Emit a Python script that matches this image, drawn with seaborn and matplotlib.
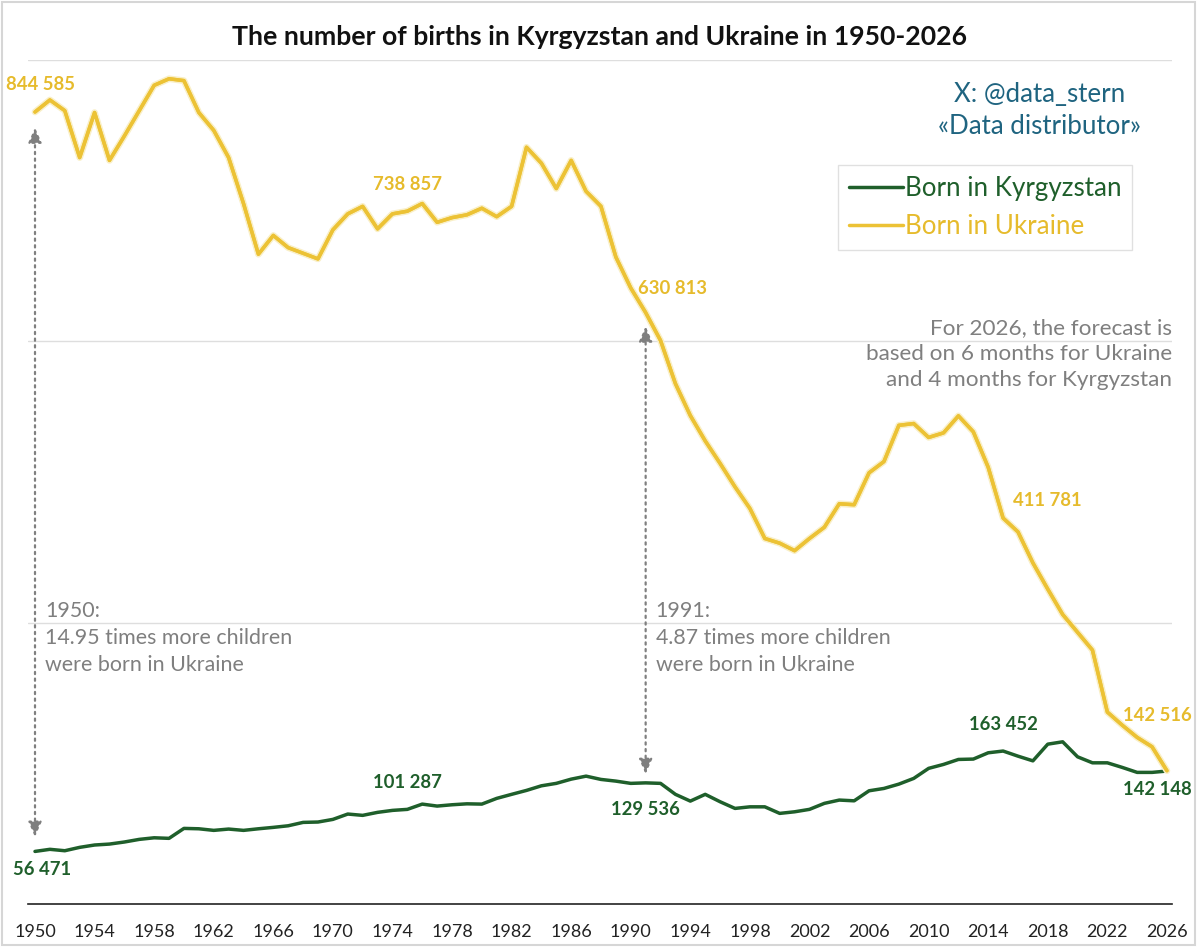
import matplotlib
matplotlib.use("Agg")
import matplotlib.pyplot as plt
import matplotlib.patheffects as pe
from matplotlib.patches import Rectangle
import numpy as np
import pandas as pd
import seaborn as sns

years = list(range(1950, 2027))

ukraine = [
    844585, 857400, 846000, 796000, 844000, 793000, 819000, 846000, 873000, 880000,
    878000, 844000, 825000, 796000, 747000, 693000, 713000, 700000, 694000, 688000,
    719000, 736000, 744000, 720000, 736000, 738857, 747000, 727000, 732000, 735000,
    742000, 733000, 744000, 807000, 790000, 763000, 793000, 760000, 744000, 690000,
    657000, 630813, 601000, 555000, 521000, 494000, 470000, 445000, 422000, 390000,
    385000, 377000, 390000, 402000, 427000, 426000, 460000, 472000, 510600, 512500,
    497700, 502600, 520700, 503700, 465900, 411781, 397000, 364000, 336000, 309000,
    290000, 271000, 205000, 191000, 178000, 168000, 142516,
]

kyrgyzstan = [
    56471, 58700, 57200, 60800, 63300, 64300, 66500, 69300, 71000, 70400,
    81000, 80600, 78900, 80300, 78900, 80600, 82100, 83800, 87400, 87800,
    90600, 96300, 94900, 98100, 100200, 101287, 106900, 104800, 106200, 107200,
    106900, 113000, 117300, 121500, 126400, 129000, 133500, 136700, 133200, 131400,
    129000, 129536, 129000, 117300, 110100, 117300, 109400, 102300, 104000, 104000,
    97000, 98700, 101300, 107700, 111200, 110400, 121100, 123600, 128200, 134300,
    145000, 149200, 154500, 154900, 161600, 163452, 158000, 153000, 170800, 173300,
    157300, 150900, 150900, 146000, 140700, 140700, 142148,
]

series_names = ["Born in Kyrgyzstan", "Born in Ukraine"]
tick_years = list(range(1950, 2027, 4))
label_years = [1950, 1975, 1991, 2015, 2026]

title = "The number of births in Kyrgyzstan and Ukraine in 1950-2026"
credit = "X: @data_stern\n«Data distributor»"
forecast_note = ("For 2026, the forecast is\nbased on 6 months for Ukraine\n"
                 "and 4 months for Kyrgyzstan")
ratio_notes = {
    1950: "1950:\n14.95 times more children\nwere born in Ukraine",
    1991: "1991:\n4.87 times more children\nwere born in Ukraine",
}
arrow_spans = {1950: (72000, 828000), 1991: (139000, 616000)}

GREEN = "#1f5f2b"
YELLOW = "#ecc235"
YELLOW_TXT = "#e6bb2c"
GRAY = "#7f7f7f"
TEAL = "#1f6480"

sns.set_style("white")
plt.rcParams["font.family"] = ["Lato", "DejaVu Sans"]

df = pd.DataFrame({
    "year": years * 2,
    "births": kyrgyzstan + ukraine,
    "series": [series_names[0]] * len(years) + [series_names[1]] * len(years),
})

fig = plt.figure(figsize=(12, 9.47), dpi=100)
W, H = 1200, 947
ax = fig.add_axes([28 / W, (H - 904.4) / H, (1172 - 28) / W, (904.4 - 60) / H])

sns.lineplot(data=df, x="year", y="births", hue="series",
             palette={series_names[0]: GREEN, series_names[1]: YELLOW},
             linewidth=2.5, ax=ax, legend=False)
ax.lines[1].set_path_effects([pe.withStroke(linewidth=4.8, foreground="#f9efc6"), pe.Normal()])

ax.set_xlim(1949.53, 2026.34)
ax.set_ylim(0, 900000)
ax.set_yticks([300000, 600000, 900000])
ax.set_yticklabels([])
ax.grid(axis="y", color="#dedede", linewidth=1)
ax.set_xticks(tick_years)
ax.set_xticklabels([str(y) for y in tick_years], fontsize=13, color="#222222")
ax.tick_params(axis="x", length=0, pad=14)
ax.tick_params(axis="y", length=0)
ax.set_xlabel("")
ax.set_ylabel("")
for side in ["top", "right", "left"]:
    ax.spines[side].set_visible(False)
ax.spines["bottom"].set_color("#222222")
ax.spines["bottom"].set_linewidth(1.2)

# data labels (offsets in pixels)
uk_offsets = {1950: (5, 27), 1975: (0, 27), 1991: (27, 24), 2015: (44, 18), 2026: (-10, 55)}
kg_offsets = {1950: (7, -18), 1975: (0, 27), 1991: (0, -27), 2015: (0, 27), 2026: (-10, -18)}
for yr in label_years:
    i = years.index(yr)
    for vals, offs, col in [(ukraine, uk_offsets, YELLOW_TXT), (kyrgyzstan, kg_offsets, GREEN)]:
        v = vals[i]
        ax.annotate(f"{v:,}".replace(",", " "), (yr, v), xytext=offs[yr],
                    textcoords="offset pixels", ha="center", va="center",
                    fontsize=13.3, fontweight="bold", color=col)

# dotted double arrows and ratio notes
for yr, (lo, hi) in arrow_spans.items():
    ax.annotate("", xy=(yr, hi), xytext=(yr, lo),
                arrowprops=dict(arrowstyle="<|-|>,head_length=0.9,head_width=0.4",
                                color=GRAY, linestyle=(0, (1, 2)), linewidth=1.6,
                                shrinkA=0, shrinkB=0))
    ax.annotate(ratio_notes[yr], (yr, 300000), xytext=(10, -15), textcoords="offset pixels",
                ha="left", va="center", fontsize=15.4, color=GRAY, linespacing=1.42)

fig.text(600 / W, 1 - 37 / H, title, ha="center", va="center",
         fontsize=19.2, fontweight="bold", color="#111111")
fig.text(1040 / W, 1 - 110 / H, credit, ha="center", va="center",
         fontsize=18.6, color=TEAL, linespacing=1.35)
fig.text(1172 / W, 1 - 354 / H, forecast_note, ha="right", va="center",
         fontsize=16.2, color=GRAY, linespacing=1.35)

handles = [plt.Line2D([], [], color=GREEN, lw=2.5), plt.Line2D([], [], color=YELLOW, lw=2.5)]
leg = ax.legend(handles, series_names, loc="upper left",
                bbox_to_anchor=(838 / W, 1 - 165 / H), bbox_transform=fig.transFigure,
                borderaxespad=0, frameon=True, fancybox=False, edgecolor="#d9d9d9",
                fontsize=18.7, handlelength=2.1, handletextpad=0.05, labelspacing=0.5,
                borderpad=0.42, labelcolor=[GREEN, YELLOW_TXT])
leg.get_frame().set_linewidth(1)

fig.patches.append(Rectangle((0.002, 0.002), 0.994, 0.996, transform=fig.transFigure,
                             fill=False, edgecolor="#d6d6d6", linewidth=1.5))

fig.savefig("out.png", dpi=100)
